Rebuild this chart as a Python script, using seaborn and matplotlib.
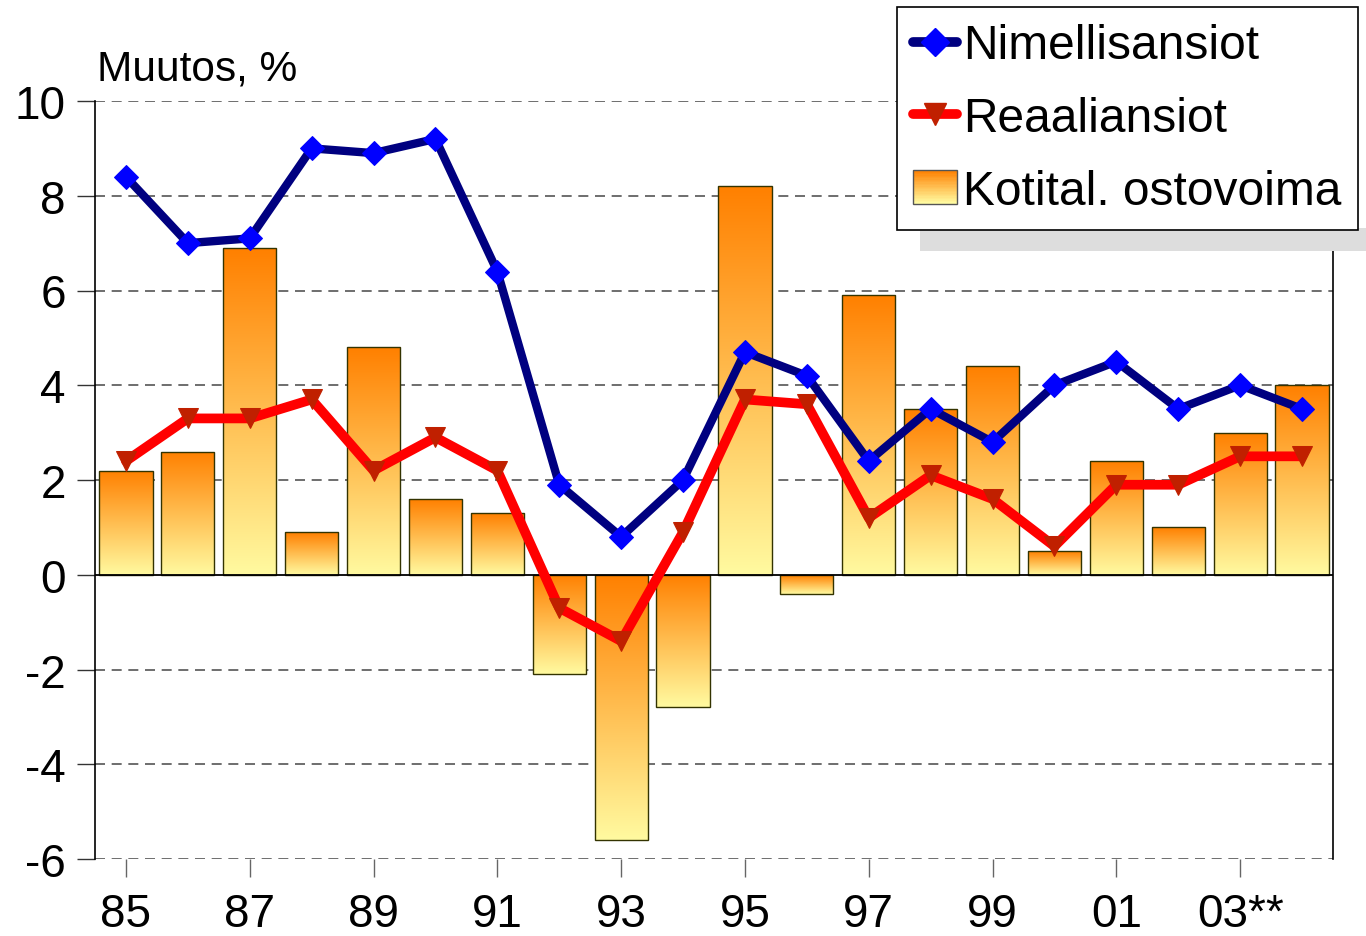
import numpy as np
import pandas as pd
import matplotlib
matplotlib.use('Agg')
import matplotlib.pyplot as plt
import seaborn as sns
from matplotlib.lines import Line2D
from matplotlib.patches import Rectangle
from matplotlib.legend_handler import HandlerBase

# data
years = ['85', '86', '87', '88', '89', '90', '91', '92', '93', '94',
         '95', '96', '97', '98', '99', '00', '01', '02', '03**', '04']
nimellis = [8.4, 7.0, 7.1, 9.0, 8.9, 9.2, 6.4, 1.9, 0.8, 2.0,
            4.7, 4.2, 2.4, 3.5, 2.8, 4.0, 4.5, 3.5, 4.0, 3.5]
reaali = [2.4, 3.3, 3.3, 3.7, 2.2, 2.9, 2.2, -0.7, -1.4, 0.9,
          3.7, 3.6, 1.2, 2.1, 1.6, 0.6, 1.9, 1.9, 2.5, 2.5]
ostovoima = [2.2, 2.6, 6.9, 0.9, 4.8, 1.6, 1.3, -2.1, -5.6, -2.8,
             8.2, -0.4, 5.9, 3.5, 4.4, 0.5, 2.4, 1.0, 3.0, 4.0]
series_names = ['Nimellisansiot', 'Reaaliansiot', 'Kotital. ostovoima']
yticks = [-6, -4, -2, 0, 2, 4, 6, 8, 10]

df = pd.DataFrame({'year': years, 'nim': nimellis, 'real': reaali, 'osto': ostovoima})
df['pos'] = np.arange(len(df))

sns.set_style('white')
plt.rcParams['font.family'] = ['Liberation Sans', 'DejaVu Sans']
plt.rcParams['text.color'] = 'black'
plt.rcParams['xtick.color'] = 'black'
plt.rcParams['ytick.color'] = 'black'

top_col = np.array([255, 128, 0]) / 255
bot_col = np.array([255, 250, 160]) / 255
grad = np.linspace(0, 1, 256)[:, None, None]
grad_img = top_col * (1 - grad) + bot_col * grad

fig = plt.figure(figsize=(13.66, 9.37), dpi=100)
ax = fig.add_axes([95 / 1366, 1 - 860 / 937, 1238 / 1366, 758 / 937])

sns.barplot(data=df, x='year', y='osto', ax=ax, width=0.86, color='orange',
            edgecolor='#333300', linewidth=1, zorder=2)

# gradient fill inside each bar
for p in ax.patches:
    x0, y0 = p.get_x(), p.get_y()
    w, h = p.get_width(), p.get_height()
    ylo, yhi = min(y0, y0 + h), max(y0, y0 + h)
    im = ax.imshow(grad_img, extent=(x0, x0 + w, ylo, yhi), origin='upper',
                   aspect='auto', zorder=1.5, interpolation='bilinear')
    im.set_clip_path(p)
    p.set_facecolor('none')

sns.lineplot(data=df, x='pos', y='real', ax=ax, color='#ff0000', lw=7,
             marker='v', ms=15, mfc='#c02000', mec='#c02000', zorder=4)
sns.lineplot(data=df, x='pos', y='nim', ax=ax, color='#000080', lw=6,
             marker='D', ms=12, mfc='#0000ff', mec='#0000ff', zorder=5)

ax.set_xlim(-0.5, len(years) - 0.5)
ax.set_ylim(-6, 10)
ax.set_yticks(yticks)
ax.set_yticklabels([str(t) for t in yticks], fontsize=33)
ax.set_xticks(df['pos'][::2])
ax.set_xticklabels(df['year'][::2], fontsize=33)
ax.set_xlabel('')
ax.set_ylabel('')

for t in yticks:
    if t == 0:
        ax.axhline(0, color='black', lw=1.3, zorder=3)
    else:
        ax.axhline(t, color='#555555', lw=1.2, ls=(0, (6, 4)), zorder=0.5)

ax.spines['top'].set_visible(False)
ax.spines['bottom'].set_visible(False)
for s in ['left', 'right']:
    ax.spines[s].set_visible(True)
    ax.spines[s].set_color('black')
    ax.spines[s].set_linewidth(1.2)

ax.tick_params(axis='y', length=13, width=1, color='#333333', pad=8, left=True)
ax.tick_params(axis='x', length=13, width=1, color='#666666', pad=11, bottom=True)

fig.text(97 / 1366, 1 - 70 / 937, 'Muutos, %', fontsize=30.5, va='center', ha='left')


class GradientHandler(HandlerBase):
    def create_artists(self, legend, orig_handle, xdescent, ydescent,
                       width, height, fontsize, trans):
        arts = []
        n = 24
        for i in range(n):
            f = i / (n - 1)
            c = top_col * (1 - f) + bot_col * f
            r = Rectangle((-xdescent, -ydescent + height * (1 - (i + 1) / n)),
                          width, height / n + 0.3, facecolor=c, edgecolor='none',
                          transform=trans)
            arts.append(r)
        arts.append(Rectangle((-xdescent, -ydescent), width, height,
                              facecolor='none', edgecolor='#555555', lw=1,
                              transform=trans))
        return arts


handles = [
    Line2D([], [], color='#000080', lw=7, marker='D', ms=14, mfc='#0000ff', mec='#0000ff'),
    Line2D([], [], color='#ff0000', lw=7, marker='v', ms=16, mfc='#c02000', mec='#c02000'),
    Rectangle((0, 0), 1, 1),
]

# legend shadow
fig.patches.append(Rectangle((920 / 1366, 1 - 252 / 937), 446 / 1366, 23 / 937,
                             transform=fig.transFigure, facecolor='#dddddd',
                             edgecolor='none', zorder=0))

leg = fig.legend(handles, series_names, loc='upper left',
                 bbox_to_anchor=(897 / 1366, 1 - 8 / 937), fontsize=34.5,
                 frameon=True, fancybox=False, framealpha=1, edgecolor='black',
                 handlelength=0.92, handletextpad=0.12, labelspacing=0.58,
                 borderpad=0.34, borderaxespad=0,
                 handler_map={Rectangle: GradientHandler()})
leg.get_frame().set_linewidth(1.2)

fig.savefig('out.png', dpi=100)
